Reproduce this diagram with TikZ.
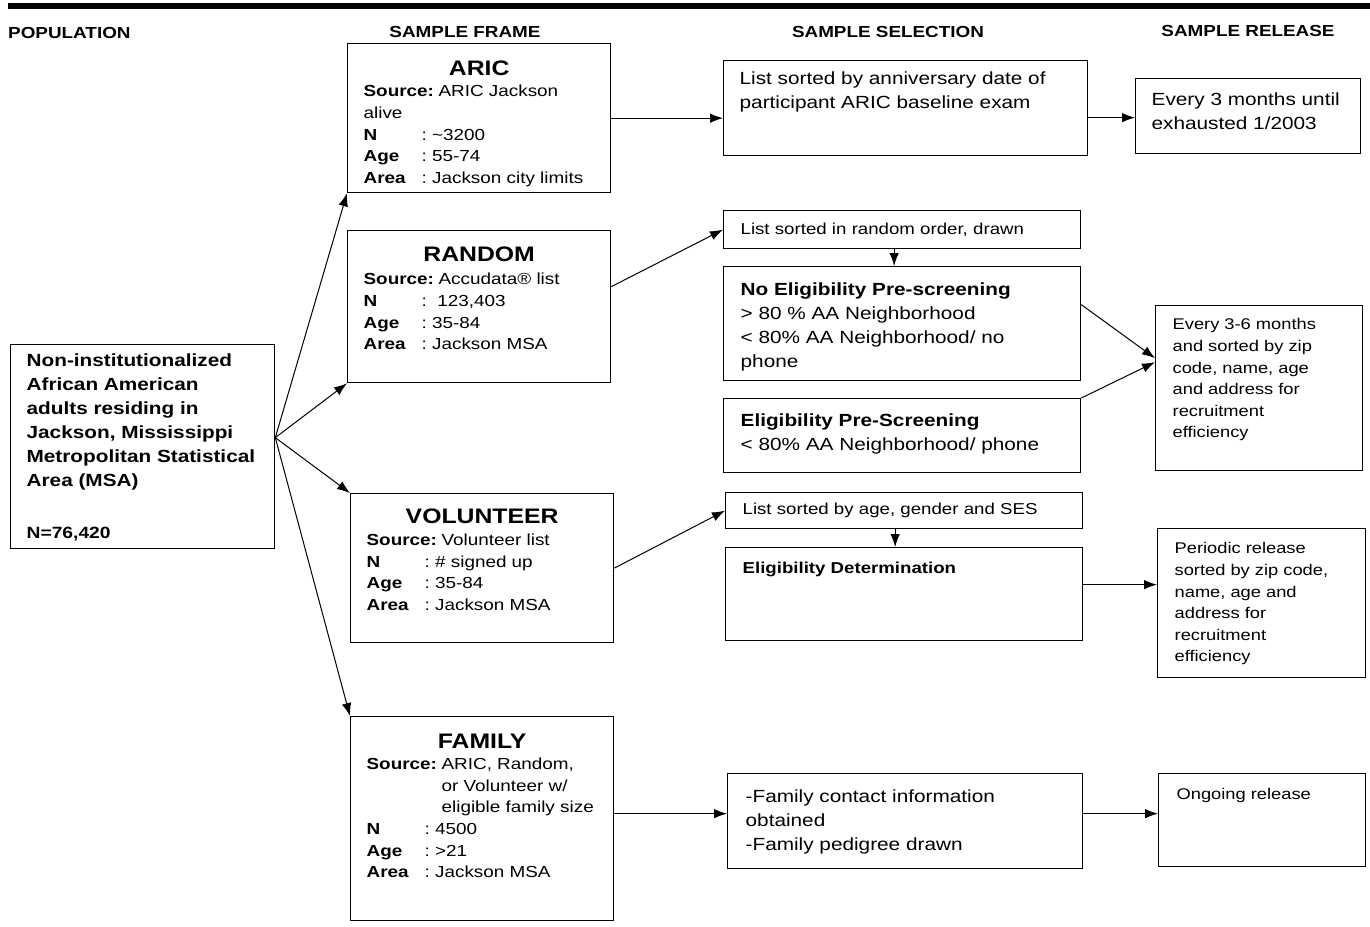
\documentclass[tikz,border=0pt]{standalone}
\usepackage{fontspec}
\setmainfont[FakeStretch=1.18]{Liberation Sans}
\usepackage{tikz}
\usetikzlibrary{
    arrows.meta
}
\newcommand{\hdfont}{\fontsize{16}{18}\selectfont\bfseries}
\newcommand{\bodyfont}{\fontsize{16}{21.6}\selectfont}
\newcommand{\popfont}{\fontsize{17.6}{24}\selectfont\bfseries}
\newcommand{\selfont}{\fontsize{17.6}{24}\selectfont}
\newcommand{\listfont}{\fontsize{15.8}{20}\selectfont}
\newcommand{\relfont}{\fontsize{15.5}{21.6}\selectfont}
\newcommand{\boxbody}[3]{\parbox[t][#2][t]{#1}{#3}}
\newcommand{\boxtitle}[1]{\makebox[\linewidth]{\fontsize{21}{22}\selectfont\bfseries #1}}
\newcommand{\srcline}[1]{\makebox[75pt][l]{\bfseries Source:}#1}
\newcommand{\field}[2]{\makebox[58pt][l]{\bfseries #1}:\ #2}
\tikzset{
    frame/.style={draw, line width=1.3pt, anchor=north west, inner xsep=16pt, font=\bodyfont},
    slim/.style={draw, line width=1.3pt, anchor=north west, inner xsep=17pt, inner ysep=0pt,
        text width=323pt, minimum height=#1, align=left, font=\listfont},
    head/.style={anchor=base, inner sep=0pt, font=\hdfont},
    link/.style={->, line width=1pt},
    >={Latex[length=13pt, width=9.5pt]}
}

\begin{document}
\begin{tikzpicture}[x=1pt, y=-1pt]
    \useasboundingbox (0,0) rectangle (1370,926);
    \draw[line width=6pt] (8,6) -- (1370,6);

    % column heads
    \node[head, anchor=base west] (hpop) at (8,38) {POPULATION};
    \node[head] (hframe) at (465,37) {SAMPLE FRAME};
    \node[head] (hsel) at (888,37) {SAMPLE SELECTION};
    \node[head] (hrel) at (1248,36) {SAMPLE RELEASE};

    % population
    \node[frame, inner ysep=9pt, font=\popfont] (pop) at (10,344) {\boxbody{232pt}{186pt}{Non-institutionalized\\ African American\\ adults residing in\\ Jackson, Mississippi\\ Metropolitan Statistical\\ Area (MSA)\\[28pt] {\fontsize{16.3}{24}\selectfont N=76,420}}};

    % sample frames
    \node[frame, inner ysep=17pt] (aric) at (347,43) {\boxbody{231pt}{115pt}{\boxtitle{ARIC}\\ \srcline{ARIC Jackson}\\ alive\\ \field{N}{\textasciitilde{}3200}\\ \field{Age}{55-74}\\ \field{Area}{Jackson city limits}}};
    \node[frame, inner ysep=16pt] (random) at (347,230) {\boxbody{231pt}{120pt}{\boxtitle{RANDOM}\\[2pt] \srcline{Accudata\textregistered{} list}\\ \field{N}{\ 123,403}\\ \field{Age}{35-84}\\ \field{Area}{Jackson MSA}}};
    \node[frame, inner ysep=15.5pt] (vol) at (350,493) {\boxbody{231pt}{118pt}{\boxtitle{VOLUNTEER}\\ \srcline{Volunteer list}\\ \field{N}{\# signed up}\\ \field{Age}{35-84}\\ \field{Area}{Jackson MSA}}};
    \node[frame, inner ysep=17pt] (family) at (350,716) {\boxbody{231pt}{170pt}{\boxtitle{FAMILY}\\ \srcline{ARIC, Random,}\\ \hspace*{75pt}or Volunteer w/\\ \hspace*{75pt}eligible family size\\ \field{N}{4500}\\ \field{Age}{>21}\\ \field{Area}{Jackson MSA}}};

    % sample selection
    \node[frame, inner ysep=11pt, font=\selfont] (anniv) at (723,60) {\boxbody{332pt}{73pt}{List sorted by anniversary date of\\ participant ARIC baseline exam}};
    \node[slim=38pt] (listrand) at (723,210) {List sorted in random order, drawn};
    \node[frame, inner xsep=17pt, inner ysep=16pt, font=\selfont] (noelig) at (723,266) {\boxbody{323pt}{82pt}{\textbf{No Eligibility Pre-screening}\\ > 80 \% AA Neighborhood\\ < 80\% AA Neighborhood/ no\\ phone}};
    \node[frame, inner xsep=17pt, inner ysep=15pt, font=\selfont] (prescr) at (723,398) {\boxbody{323pt}{44pt}{\textbf{Eligibility Pre-Screening}\\ < 80\% AA Neighborhood/ phone}};
    \node[slim=36pt] (listage) at (725,492) {List sorted by age, gender and SES};
    \node[frame, inner xsep=17pt, inner ysep=14pt, font=\listfont] (eligdet) at (725,547) {\boxbody{323pt}{65pt}{\textbf{Eligibility Determination}}};
    \node[frame, inner xsep=18pt, inner ysep=16pt, font=\selfont] (famcont) at (727,773) {\boxbody{319pt}{63pt}{-Family contact information\\ obtained\\ -Family pedigree drawn}};

    % sample release
    \node[frame, inner ysep=14pt, font=\selfont] (every3) at (1135,78) {\boxbody{193pt}{47pt}{Every 3 months until\\ exhausted 1/2003}};
    \node[frame, inner xsep=17pt, inner ysep=13pt, font=\relfont] (every36) at (1155,305) {\boxbody{173pt}{139pt}{Every 3-6 months\\ and sorted by zip\\ code, name, age\\ and address for\\ recruitment\\ efficiency}};
    \node[frame, inner xsep=17pt, inner ysep=14pt, font=\relfont] (periodic) at (1157,528) {\boxbody{174pt}{121pt}{Periodic release\\ sorted by zip code,\\ name, age and\\ address for\\ recruitment\\ efficiency}};
    \node[frame, inner xsep=18pt, inner ysep=15pt, font=\relfont] (ongoing) at (1158,773) {\boxbody{171pt}{63pt}{Ongoing release}};

    % population to frames
    \coordinate (hub) at ([yshift=9pt]pop.east);
    \draw[link] (hub) -- (aric.south west);
    \draw[link] (hub) -- (random.south west);
    \draw[link] (hub) -- (vol.north west);
    \draw[link] (hub) -- (family.north west);

    % frames to selection to release
    \draw[link] (aric.east) -- (anniv.west |- aric.east);
    \coordinate (a3) at ([yshift=-9.5pt]anniv.east);
    \draw[link] (a3) -- (every3.west |- a3);

    \draw[link] ([yshift=20pt]random.east) -- (listrand.west);
    \draw[link] ([xshift=-8pt]listrand.south) -- ([xshift=-8pt]listrand.south |- noelig.north);
    \draw[link] ([yshift=19pt]noelig.east) -- ([yshift=30pt]every36.west);
    \draw[link] (prescr.north east) -- ([yshift=26pt]every36.west);

    \draw[link] (vol.east) -- (listage.west);
    \draw[link] ([xshift=-9pt]listage.south) -- ([xshift=-9pt]listage.south |- eligdet.north);
    \coordinate (ed) at ([yshift=9.5pt]eligdet.east);
    \draw[link] (ed) -- (periodic.west |- ed);

    \coordinate (fm) at ([yshift=5pt]family.east);
    \draw[link] (fm) -- (famcont.west |- fm);
    \coordinate (fc) at ([yshift=7.5pt]famcont.east);
    \draw[link] (fc) -- (ongoing.west |- fc);
\end{tikzpicture}
\end{document}
